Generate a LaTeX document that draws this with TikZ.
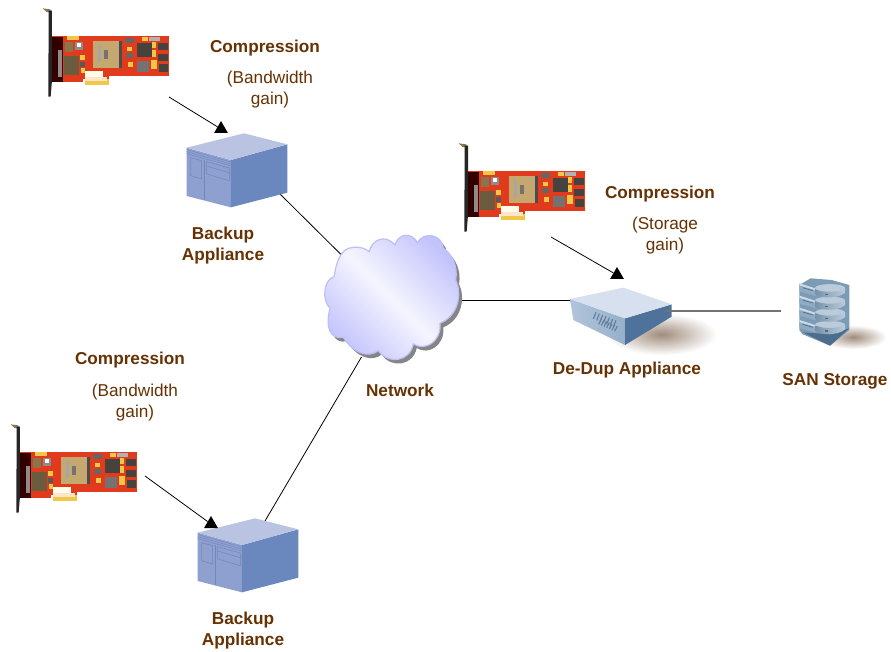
\documentclass[tikz,border=0pt]{standalone}
\usepackage{fontspec}
\setmainfont{Liberation Sans}
\usetikzlibrary{shapes.geometric}
\definecolor{labelbrown}{RGB}{102,50,4}
\definecolor{cloudedge}{RGB}{190,190,248}
\definecolor{cloudtint}{RGB}{195,195,252}
\definecolor{srvtop}{RGB}{186,196,226}
\definecolor{srvfront}{RGB}{142,160,208}
\definecolor{srvside}{RGB}{106,136,190}
\definecolor{srvline}{RGB}{116,134,184}
\definecolor{pcb}{RGB}{226,58,28}
\definecolor{gold}{RGB}{240,200,70}
\definecolor{chiptan}{RGB}{196,168,112}
\definecolor{chipdark}{RGB}{70,66,62}
\definecolor{boxlight}{RGB}{214,224,238}
\definecolor{boxmid}{RGB}{176,196,218}
\definecolor{boxlow}{RGB}{150,176,202}
\definecolor{boxdark}{RGB}{78,114,154}
\definecolor{boxhatch}{RGB}{100,126,160}
\definecolor{shadetan}{RGB}{160,140,124}
\definecolor{stsoft}{RGB}{186,204,220}
\definecolor{stmid}{RGB}{124,156,182}
\definecolor{stdark}{RGB}{76,110,140}
\tikzset{
  hit/.style={inner sep=0pt,outer sep=0pt},
  bold label/.style={font=\fontsize{17.2}{21}\selectfont\bfseries,text=labelbrown,align=center,inner sep=0pt},
  plain label/.style={font=\fontsize{17.2}{21}\selectfont,text=labelbrown,align=center,inner sep=0pt},
  link/.style={draw=black,line width=0.8pt},
  tipmark/.style={regular polygon,regular polygon sides=3,fill=black,minimum size=16pt,inner sep=0pt},
}
% add-in card, drawn in the frame of the first card crop
\newcommand{\cardart}[2]{%
\begin{scope}[shift={(#1,#2)},scale=0.3333]
  \fill[chiptan!70!black] (38,25) -- (60,28) -- (66,38) -- (50,36) -- cycle;
  \fill[black!85] (56,32) -- (66,32) -- (66,240) -- (62,290) -- (55,290) -- cycle;
  \fill[pcb] (65,108) rectangle (416,228);
  \fill[pcb] (100,228) rectangle (160,245);
  \fill[pcb] (135,228) rectangle (238,238);
  \fill[black!80!red] (65,110) rectangle (100,245);
  \fill[black!45] (84,150) rectangle (95,232);
  \fill[gold] (165,236) rectangle (237,256);
  \fill[white!90!yellow] (165,212) rectangle (220,230);
  \fill[white!80!orange] (165,231) rectangle (232,242);
  \fill[chiptan] (188,122) rectangle (272,205);
  \fill[black!70] (268,124) rectangle (275,205);
  \fill[black!55] (222,150) rectangle (234,178);
  \fill[black!35] (205,135) rectangle (212,185);
  \fill[chiptan!70!black] (105,125) rectangle (130,155);
  \fill[black!45] (135,125) rectangle (160,150);
  \fill[white!70] (142,130) rectangle (152,142);
  \fill[chiptan!55!black] (103,168) rectangle (148,225);
  \fill[chipdark] (320,130) rectangle (365,172);
  \fill[black!55] (322,183) rectangle (358,215);
  \fill[chipdark] (383,128) rectangle (415,150);
  \fill[chipdark] (385,162) rectangle (415,183);
  \fill[chipdark] (388,193) rectangle (415,215);
  \fill[gold] (112,108) rectangle (148,120);
  \fill[gold] (335,112) rectangle (355,122);
  \fill[black!30] (356,110) rectangle (390,122);
  \fill[gold] (366,125) rectangle (378,145);
  \fill[gold] (366,150) rectangle (378,172);
  \fill[gold] (362,180) rectangle (380,208);
  \fill[gold] (150,165) rectangle (165,180);
  \fill[gold] (152,205) rectangle (165,220);
  \fill[black!65] (150,185) rectangle (165,200);
  \fill[black!60] (285,115) rectangle (312,130);
  \fill[gold] (290,140) rectangle (305,152);
  \fill[black!60] (288,160) rectangle (310,175);
  \fill[gold] (293,185) rectangle (310,200);
\end{scope}}
% server box, drawn in the frame of the first server crop
\newcommand{\serverart}[2]{%
\begin{scope}[shift={(#1,#2)},scale=0.3333]
  \fill[srvfront] (50,113) -- (183,150) -- (183,292) -- (50,258) -- cycle;
  \fill[srvside] (183,150) -- (352,103) -- (352,248) -- (183,292) -- cycle;
  \fill[srvtop] (50,113) -- (222,70) -- (352,103) -- (183,150) -- cycle;
  \draw[srvline,line width=0.4pt] (50,119) -- (183,156);
  \draw[srvline,line width=0.4pt] (50,125) -- (183,162);
  \draw[srvline,line width=0.4pt] (50,131) -- (183,168);
  \draw[srvline,line width=0.5pt] (62,143) -- (95,152) -- (95,207) -- (62,197) -- cycle;
  \draw[srvline,line width=0.7pt] (103,150) -- (103,270);
  \draw[srvline,line width=0.5pt] (110,155) -- (178,174) -- (178,212) -- (110,192) -- cycle;
  \draw[srvline,line width=0.5pt] (110,168) -- (178,188);
\end{scope}}
\begin{document}
\begin{tikzpicture}[x=1pt,y=-1pt]
\useasboundingbox (0,0) rectangle (891,652);
\fill[white] (0,0) rectangle (891,652);

% invisible anchors of the drawn shapes
\node[hit,minimum width=125pt,minimum height=88pt] (card1) at (106,53) {};
\node[hit,minimum width=125pt,minimum height=88pt] (card2) at (522,188) {};
\node[hit,minimum width=125pt,minimum height=88pt] (card3) at (74,469) {};
\node[hit,minimum width=100pt,minimum height=75pt] (server1) at (237,170) {};
\node[hit,minimum width=100pt,minimum height=75pt] (server2) at (248,555) {};
\node[hit,minimum width=140pt,minimum height=130pt] (cloud) at (393,305) {};
\node[hit,minimum width=100pt,minimum height=55pt] (dedup) at (621,315) {};
\node[hit,minimum width=50pt,minimum height=60pt] (san) at (825,315) {};

\coordinate (card1out) at (169,97);
\coordinate (card2out) at (551,237);
\coordinate (card3out) at (145,476);
\coordinate (server1net) at (280,194);
\coordinate (server2net) at (265,521);
\coordinate (cloudnw) at (341.5,255);
\coordinate (cloudsw) at (361.5,357);
\coordinate (cloude) at (462,300);
\coordinate (dedupw) at (571,300);
\coordinate (dedupe) at (665,311);
\coordinate (sanw) at (781,311);

% connectors
\draw[link] (server1net) -- (cloudnw);
\draw[link] (server2net) -- (cloudsw);
\draw[link] (cloude) -- (dedupw);

% cards
\cardart{30}{0}
\cardart{446}{135}
\cardart{-2}{416}

% servers
\serverart{170}{110}
\serverart{181}{495}

% cloud
\begin{scope}[shift={(310,220)},scale=0.3333]
  \def\cloudpath{(72,170) .. controls (80,125) and (90,85) .. (130,82) .. controls (150,80) and (165,85) .. (178,95)
    .. controls (185,60) and (225,40) .. (255,75)
    .. controls (265,40) and (305,35) .. (322,68)
    .. controls (340,35) and (395,40) .. (400,85)
    .. controls (425,100) and (445,140) .. (437,180)
    .. controls (455,215) and (450,285) .. (390,310)
    .. controls (395,365) and (345,395) .. (310,372)
    .. controls (300,425) and (235,435) .. (205,392)
    .. controls (175,415) and (130,400) .. (100,352)
    .. controls (60,360) and (45,320) .. (60,265)
    .. controls (35,240) and (40,180) .. (72,170) -- cycle}
  \fill[black!48,shift={(10,12)}] \cloudpath;
  \shade[top color=cloudtint,bottom color=cloudtint,middle color=white!96!blue,shading angle=-45] \cloudpath;
  \draw[cloudedge,line width=1.2pt] \cloudpath;
\end{scope}

% de-dup appliance
\begin{scope}[shift={(560,275)},scale=0.3333]
  \shade[inner color=shadetan,outer color=white] (305,178) ellipse (165 and 62);
  \shade[left color=boxmid,right color=boxlow] (30,72) -- (195,130) -- (195,210) -- (40,135) -- cycle;
  \fill[boxdark] (195,130) -- (335,88) -- (335,125) -- (195,210) -- cycle;
  \fill[boxlight] (30,72) -- (190,38) -- (335,88) -- (195,130) -- cycle;
  \foreach \k in {0,...,6}
    \draw[boxhatch,line width=1.1pt] ({108+\k*10},{112+\k*4}) -- ({100+\k*10},{132+\k*4});
  \foreach \k in {0,...,6}
    \draw[boxhatch,line width=1.1pt] ({124+\k*8},{132+\k*3.5}) -- ({116+\k*8},{148+\k*3.5});
\end{scope}

% SAN storage
\begin{scope}[shift={(790,275)},scale=0.3333]
  \shade[inner color=shadetan,outer color=white] (190,186) ellipse (100 and 36);
  \fill[stmid] (28,30) -- (62,10) -- (125,15) -- (178,30) -- (178,165) -- (120,212) -- (38,178) -- (28,165) -- cycle;
  \fill[stdark] (38,172) -- (120,212) -- (178,160) -- (120,178) -- cycle;
  \foreach \y in {135,98,62,25}{
    \fill[stmid!85!white] (28,\y) -- (78,{\y+16}) -- (78,{\y+38}) -- (28,{\y+24}) -- cycle;
    \fill[stsoft!70!white] (28,\y) -- (78,{\y+16}) -- (78,{\y+21}) -- (28,{\y+6}) -- cycle;
    \draw[stdark,line width=0.7pt] (38,{\y+13}) -- (68,{\y+22});
    \fill[stsoft] (120,{\y+14}) ellipse (45 and 11);
    \shade[left color=stdark!75!white,right color=stsoft] (76,{\y+16}) .. controls (100,{\y+28}) and (145,{\y+26}) .. (165,{\y+14}) -- (165,{\y+28}) .. controls (145,{\y+46}) and (100,{\y+46}) .. (76,{\y+34}) -- cycle;
    \fill[stdark] (105,{\y+31}) rectangle (113,{\y+35});
  }
  \fill[stsoft] (120,39) ellipse (45 and 11);
\end{scope}
\draw[draw=black!55,line width=1.1pt] (dedupe) -- (sanw);

% arrows from the cards
\node[tipmark] (tip1) at (221,129) {};
\node[tipmark] (tip2) at (617,275) {};
\node[tipmark] (tip3) at (211,524) {};
\draw[link] (card1out) -- (tip1);
\draw[link] (card2out) -- (tip2);
\draw[link] (card3out) -- (tip3);

% labels
\node[bold label] (t1) at (265,48) {Compression};
\node[plain label] (t2) at (270,90) {(Bandwidth\\gain)};
\node[bold label] (t3) at (223,246) {Backup\\Appliance};
\node[bold label] (t4) at (660,194) {Compression};
\node[plain label] (t5) at (665,235.5) {(Storage\\gain)};
\node[bold label] (t6) at (400,390.5) {Network};
\node[bold label] (t7) at (627,370) {De-Dup Appliance};
\node[bold label] (t8) at (835,381) {SAN Storage};
\node[bold label] (t9) at (130,360) {Compression};
\node[plain label] (t10) at (135,402.5) {(Bandwidth\\gain)};
\node[bold label] (t11) at (243,631) {Backup\\Appliance};
\end{tikzpicture}
\end{document}
